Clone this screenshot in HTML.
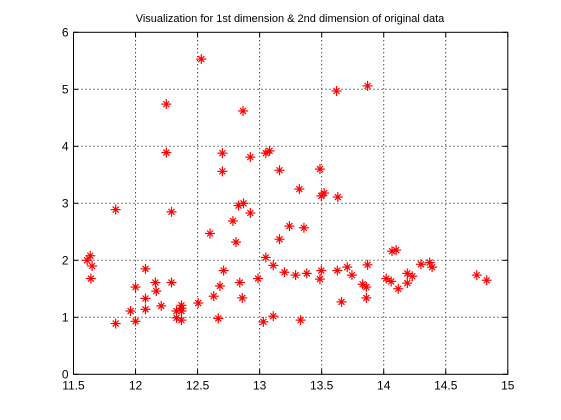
<!DOCTYPE html>
<html><head><meta charset="utf-8"><style>
body{margin:0;background:#fff;}
svg{display:block;font-family:"Liberation Sans",sans-serif;}
</style></head><body>
<svg id="chart" width="561" height="420" viewBox="0 0 561 420">
<rect x="0" y="0" width="561" height="420" fill="#fff"/>
<text x="290" y="22" font-size="11" text-anchor="middle">Visualization for 1st dimension &amp; 2nd dimension of original data</text>
<g id="grid"></g><g id="axes"></g><g id="points"></g>
</svg>
<script>
const xVals=[12.53,12.248,12.866,12.248,12.70,12.70,12.925,13.05,13.08,13.16,11.84,12.29,12.83,12.87,12.925,12.785,
13.62,13.87,13.486,13.32,13.497,13.52,13.63,13.24,13.357,
12.60,12.81,13.16,11.61,11.635,11.65,11.64,11.84,12.0,11.96,12.0,12.08,12.08,12.08,12.16,12.167,12.207,12.29,12.33,12.33,12.37,12.37,12.37,12.37,12.505,12.63,12.667,12.68,12.71,12.84,12.86,12.987,13.03,13.05,13.11,13.11,13.20,
13.29,13.38,13.497,13.486,13.33,13.626,13.706,13.744,13.87,13.83,13.86,13.86,13.66,14.02,14.06,14.117,14.067,14.10,14.19,14.23,14.19,14.30,14.37,14.39,14.75,14.83];
const yVals=[5.53,4.74,4.62,3.89,3.88,3.56,3.81,3.88,3.92,3.58,2.89,2.85,2.96,3.0,2.83,2.69,
4.97,5.06,3.60,3.25,3.13,3.18,3.11,2.60,2.57,
2.47,2.32,2.37,2.0,2.08,1.90,1.68,0.89,1.53,1.11,0.93,1.85,1.33,1.14,1.61,1.46,1.20,1.61,1.11,0.99,1.21,1.16,1.11,0.95,1.25,1.37,0.98,1.55,1.82,1.61,1.34,1.68,0.92,2.05,1.91,1.02,1.79,
1.74,1.77,1.82,1.67,0.95,1.82,1.88,1.74,1.92,1.58,1.53,1.34,1.27,1.68,1.63,1.50,2.16,2.18,1.77,1.72,1.60,1.93,1.96,1.88,1.74,1.65];
const xTicks=["11.5","12","12.5","13","13.5","14","14.5","15"];
const yTicks=["0","1","2","3","4","5","6"];
const NS="http://www.w3.org/2000/svg";
const L=73.5,R=507.8,T=32.3,B=374.3,xMin=11.5,xMax=15,yMin=0,yMax=6;
const sx=v=>L+(v-xMin)/(xMax-xMin)*(R-L);
const sy=v=>B-(v-yMin)/(yMax-yMin)*(B-T);
function mk(tag,attrs,parent){const e=document.createElementNS(NS,tag);for(const k in attrs)e.setAttribute(k,attrs[k]);parent.appendChild(e);return e;}
const grid=document.getElementById('grid'),axes=document.getElementById('axes'),pts=document.getElementById('points');
xTicks.forEach(t=>{const x=sx(parseFloat(t));
 if(x>L+1&&x<R-1){const g=mk('line',{x1:x,x2:x,y1:T,y2:B,stroke:'#000','stroke-width':1,'stroke-dasharray':'1 3'},grid);
 
 }
 mk('line',{x1:x,x2:x,y1:B,y2:B-5,stroke:'#000'},axes);
 mk('line',{x1:x,x2:x,y1:T,y2:T+5,stroke:'#000'},axes);
 const tx=mk('text',{x:x,y:B+15,'font-size':12,'text-anchor':'middle'},axes);tx.textContent=t;
 
 
});
yTicks.forEach(t=>{const y=sy(parseFloat(t));
 if(y>T+1&&y<B-1){const g=mk('line',{x1:L,x2:R,y1:y,y2:y,stroke:'#000','stroke-width':1,'stroke-dasharray':'1 3'},grid);
 
 }
 mk('line',{x1:L,x2:L+5,y1:y,y2:y,stroke:'#000'},axes);
 mk('line',{x1:R,x2:R-5,y1:y,y2:y,stroke:'#000'},axes);
 const tx=mk('text',{x:L-5,y:y+4,'font-size':12,'text-anchor':'end'},axes);tx.textContent=t;
 
 
});
const box=mk('rect',{x:L,y:T,width:R-L,height:B-T,fill:'none',stroke:'#000','stroke-width':1},axes);


xVals.forEach((xv,i)=>{const x=sx(xv),y=sy(yVals[i]);
 const g=mk('g',{stroke:'#f00','stroke-width':1.2},pts);
 
 
 mk('line',{x1:x-5,x2:x+5,y1:y,y2:y},g);
 mk('line',{x1:x,x2:x,y1:y-5,y2:y+5},g);
 mk('line',{x1:x-3,x2:x+3,y1:y-3,y2:y+3},g);
 mk('line',{x1:x-3,x2:x+3,y1:y+3,y2:y-3},g);
});
</script>
</body></html>
